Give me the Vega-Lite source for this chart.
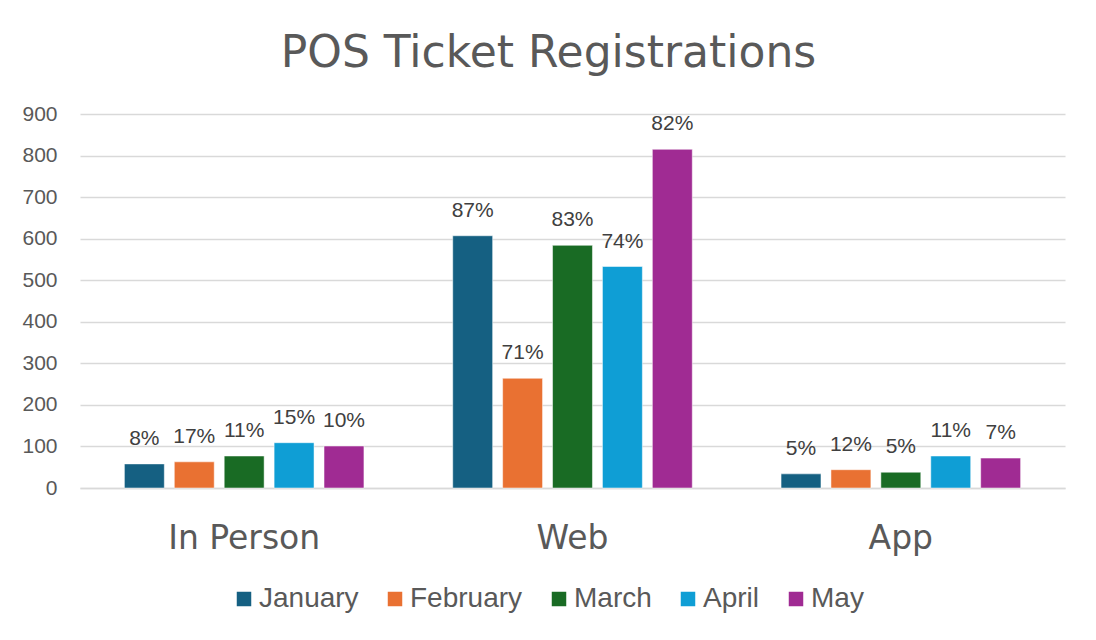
{
  "$schema": "https://vega.github.io/schema/vega-lite/v6.json",
  "width": 985,
  "height": 374,
  "autosize": "none",
  "padding": {"left": 80, "top": 114, "right": 31, "bottom": 152},
  "background": "white",
  "title": {
    "text": "POS Ticket Registrations",
    "font": "DejaVu Sans",
    "fontSize": 44,
    "fontWeight": "normal",
    "color": "#595959",
    "frame": "group",
    "anchor": "middle",
    "baseline": "alphabetic",
    "offset": -8,
    "dx": -24
  },
  "data": {
    "values": [
      {"channel": "In Person", "month": "January", "value": 58, "pct": "8%"},
      {"channel": "In Person", "month": "February", "value": 63, "pct": "17%"},
      {"channel": "In Person", "month": "March", "value": 77, "pct": "11%"},
      {"channel": "In Person", "month": "April", "value": 109, "pct": "15%"},
      {"channel": "In Person", "month": "May", "value": 101, "pct": "10%"},
      {"channel": "Web", "month": "January", "value": 607, "pct": "87%"},
      {"channel": "Web", "month": "February", "value": 264, "pct": "71%"},
      {"channel": "Web", "month": "March", "value": 584, "pct": "83%"},
      {"channel": "Web", "month": "April", "value": 533, "pct": "74%"},
      {"channel": "Web", "month": "May", "value": 815, "pct": "82%"},
      {"channel": "App", "month": "January", "value": 34, "pct": "5%"},
      {"channel": "App", "month": "February", "value": 44, "pct": "12%"},
      {"channel": "App", "month": "March", "value": 38, "pct": "5%"},
      {"channel": "App", "month": "April", "value": 77, "pct": "11%"},
      {"channel": "App", "month": "May", "value": 72, "pct": "7%"}
    ]
  },
  "encoding": {
    "x": {
      "field": "channel",
      "type": "nominal",
      "sort": ["In Person", "Web", "App"],
      "scale": {"paddingInner": 0.24, "paddingOuter": 0.12},
      "axis": {
        "title": null,
        "labelAngle": 0,
        "labelFont": "DejaVu Sans",
        "labelFontSize": 33,
        "labelColor": "#595959",
        "labelPadding": 34,
        "ticks": false,
        "domainColor": "#D9D9D9",
        "domainWidth": 1.5
      }
    },
    "xOffset": {
      "field": "month",
      "type": "nominal",
      "sort": ["January", "February", "March", "April", "May"],
      "scale": {"paddingInner": 0.2, "paddingOuter": 0.1}
    },
    "y": {
      "field": "value",
      "type": "quantitative",
      "scale": {"domain": [0, 900]},
      "axis": {
        "title": null,
        "values": [0, 100, 200, 300, 400, 500, 600, 700, 800, 900],
        "labelFont": "Liberation Sans",
        "labelFontSize": 21,
        "labelColor": "#595959",
        "labelPadding": 23,
        "ticks": false,
        "domain": false,
        "gridColor": "#D9D9D9",
        "gridWidth": 1.5
      }
    },
    "color": {
      "field": "month",
      "type": "nominal",
      "sort": ["January", "February", "March", "April", "May"],
      "scale": {
        "domain": ["January", "February", "March", "April", "May"],
        "range": ["#156082", "#E97132", "#196B24", "#0F9ED5", "#A02B93"]
      },
      "legend": {
        "title": null,
        "orient": "none",
        "direction": "horizontal",
        "legendX": 150,
        "legendY": 471,
        "padding": 0,
        "symbolType": "square",
        "symbolSize": 210,
        "symbolStrokeWidth": 0,
        "labelFont": "Liberation Sans",
        "labelFontSize": 28,
        "labelColor": "#595959",
        "labelOffset": 1,
        "columnPadding": 22
      }
    }
  },
  "layer": [
    {"mark": {"type": "bar", "stroke": "white", "strokeWidth": 0.5}},
    {
      "mark": {
        "type": "text",
        "baseline": "alphabetic",
        "dy": -19,
        "font": "Liberation Sans",
        "fontSize": 21,
        "color": "#404040"
      },
      "encoding": {
        "text": {"field": "pct"},
        "color": {"value": "#404040"}
      }
    }
  ],
  "config": {
    "view": {"stroke": null}
  }
}
